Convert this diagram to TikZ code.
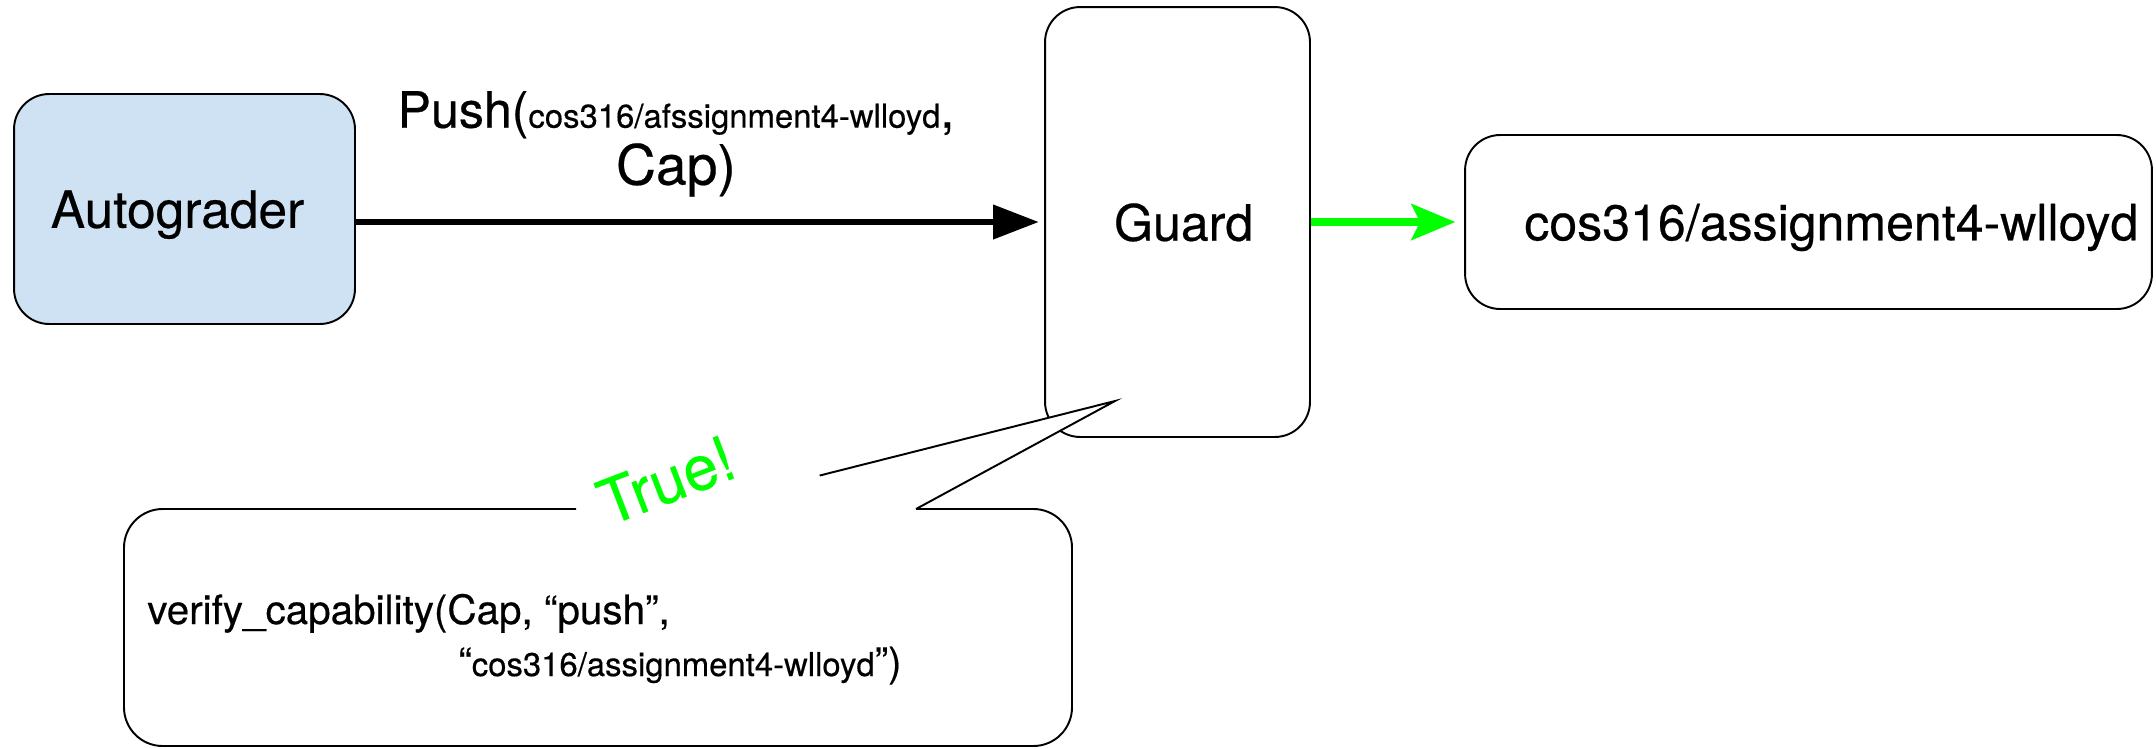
\documentclass[tikz,border=0pt]{standalone}
\usepackage{fontspec}
\setmainfont[FakeBold=0.4]{TeX Gyre Heros}
\usetikzlibrary{arrows.meta,calc}

\definecolor{gradeblue}{RGB}{207,226,243}
\definecolor{okgreen}{RGB}{0,255,0}
\newcommand\repofont{\fontsize{18.7pt}{22pt}\selectfont}

\begin{document}
\begin{tikzpicture}[x=0.02cm,y=-0.02cm,
  box/.style={draw,line width=1.1pt,rounded corners=20pt,text depth=0pt,
    font=\fontsize{28.5pt}{32.4pt}\selectfont},
  pusharrow/.style={line width=3.4pt,-{Triangle[length=26pt,width=19pt]}},
  okarrow/.style={okgreen,line width=4pt,-{Stealth[length=25pt,width=20.5pt,inset=5pt]}}]
\useasboundingbox (0,0) rectangle (2156,748);
\node[box,fill=gradeblue,minimum width=6.82cm,minimum height=4.6cm,font=\fontsize{29.3pt}{33pt}\selectfont]
  (auto) at (184.5,209) {Autograder\hspace*{8pt}};
\node[box,minimum width=5.3cm,minimum height=8.6cm] (guard) at (1177.5,222) {\hspace*{7pt}Guard};
\node[box,minimum width=13.74cm,minimum height=3.48cm] (repo) at (1808.5,222)
  {\hspace*{26pt}cos316/assignment4-wlloyd};

\draw[pusharrow,shorten >=3pt] (auto.east |- guard.west) -- (guard.west);
\node[anchor=south,inner sep=0pt,align=center,font=\fontsize{28.5pt}{32.4pt}\selectfont] (pushlbl)
  at (676,197) {Push({\repofont cos316/afssignment4-wlloyd},\\{\fontsize{31.5pt}{32.4pt}\selectfont Cap)}};
\draw[okarrow,shorten >=5pt] (guard) -- (repo);

% speech bubble below the guard
\coordinate (tip) at (1115,401);
\coordinate (baseL) at (687,509);
\coordinate (baseR) at (916,509);
\fill[white] (baseL) -- (tip) -- (baseR) -- cycle;
\draw[line width=1.1pt,rounded corners=22pt] (576,509) -- (124,509) -- (124,746) -- (1072,746) -- (1072,509) -- (baseR);
\draw[line width=1.1pt] (baseR) -- (tip) -- ($(tip)!0.69!(baseL)$);
\node[anchor=base west,inner sep=0pt,font=\fontsize{23pt}{28pt}\selectfont] (verify)
  at (147,624) {verify\_capability(Cap, “push”,};
\node[anchor=base west,inner sep=0pt,font=\fontsize{23pt}{28pt}\selectfont] (verifyrepo)
  at (458,676) {“{\repofont cos316/assignment4-wlloyd}”)};
\node[okgreen,rotate=21,inner sep=0pt,text depth=0pt,font=\fontsize{35.5pt}{40pt}\selectfont] (true)
  at (666,480) {True!};
\end{tikzpicture}
\end{document}
